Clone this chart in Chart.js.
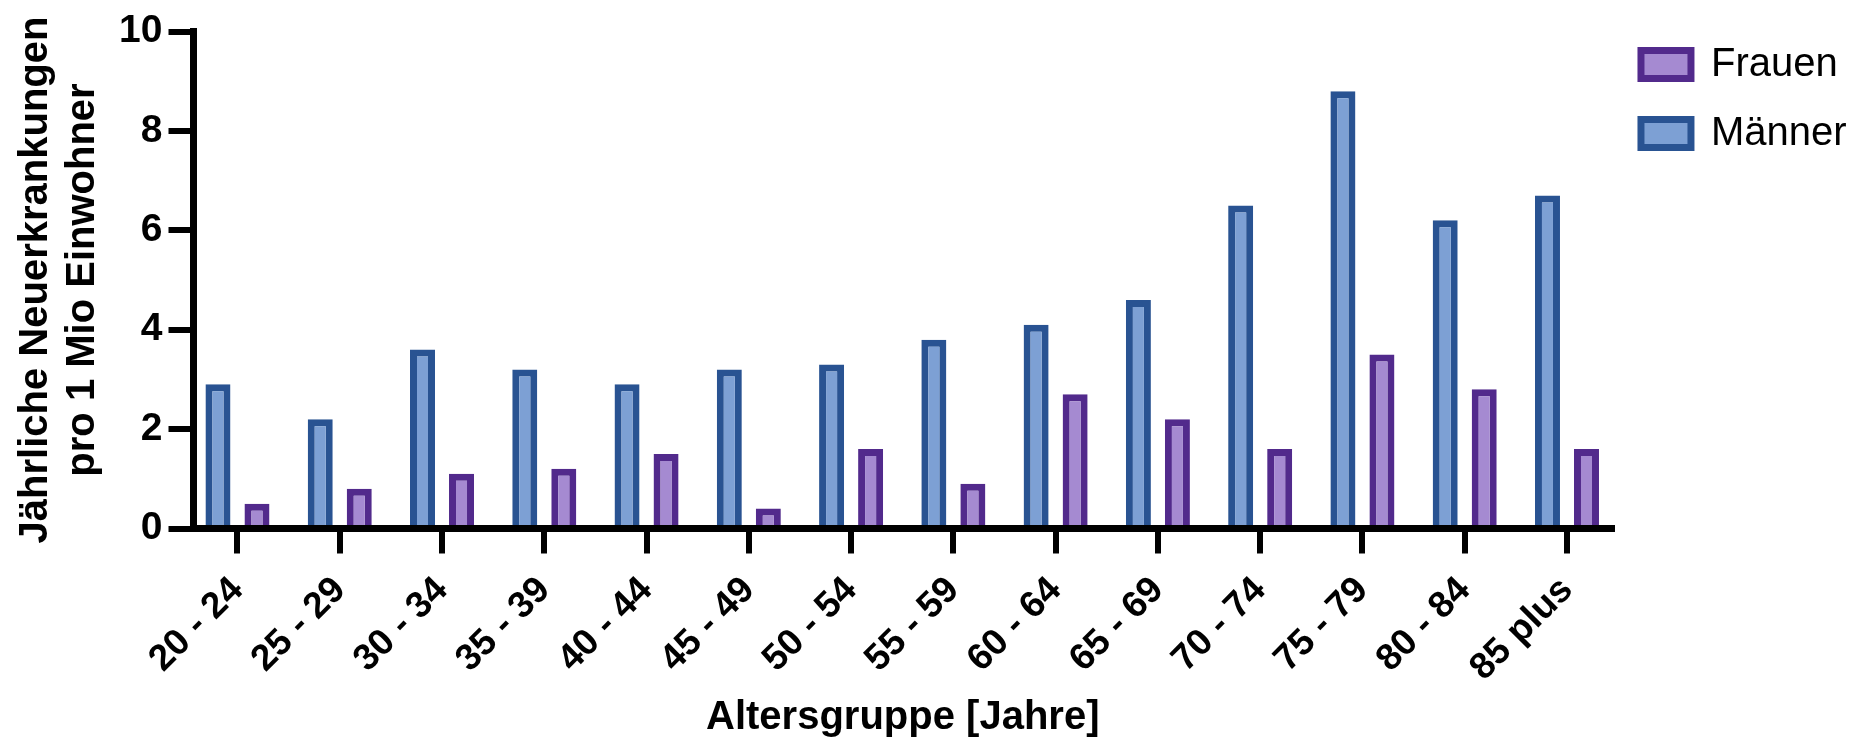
<!DOCTYPE html>
<html>
<head>
<meta charset="utf-8">
<script src="https://cdn.jsdelivr.net/npm/chart.js@4.4.1/dist/chart.umd.min.js"></script>
<style>
html,body{margin:0;padding:0;background:#fff;}
canvas{display:block;}
</style>
</head>
<body>
<canvas id="c" width="1859" height="738"></canvas>
<script>
// ---- data ----
const categories = ['20 - 24','25 - 29','30 - 34','35 - 39','40 - 44','45 - 49','50 - 54','55 - 59','60 - 64','65 - 69','70 - 74','75 - 79','80 - 84','85 plus'];
const maenner = [2.9, 2.2, 3.6, 3.2, 2.9, 3.2, 3.3, 3.8, 4.1, 4.6, 6.5, 8.8, 6.2, 6.7];
const frauen  = [0.5, 0.8, 1.1, 1.2, 1.5, 0.4, 1.6, 0.9, 2.7, 2.2, 1.6, 3.5, 2.8, 1.6];
const seriesNames = ['Männer', 'Frauen'];
const yTitle = ['Jährliche Neuerkrankungen', 'pro 1 Mio Einwohner'];
const xTitle = 'Altersgruppe [Jahre]';
const yMin = 0, yMax = 10, yStep = 2;

// ---- styles ----
const FONT = '"Liberation Sans", Arial, Helvetica, sans-serif';
const BLUE_BORDER = '#295392', BLUE_FILL = '#7DA0D4';
const PURPLE_BORDER = '#522A8C', PURPLE_FILL = '#A58AD1';

Chart.defaults.color = '#000';
Chart.defaults.font.family = FONT;

const toPoints = arr => arr.map((v, i) => ({x: i, y: v}));

new Chart(document.getElementById('c'), {
  type: 'bar',
  data: {
    datasets: [
      { label: seriesNames[0], data: toPoints(maenner), backgroundColor: BLUE_FILL, borderColor: BLUE_BORDER, borderWidth: 7 },
      { label: seriesNames[1], data: toPoints(frauen), backgroundColor: PURPLE_FILL, borderColor: PURPLE_BORDER, borderWidth: 7 }
    ]
  },
  options: {
    responsive: false,
    animation: false,
    devicePixelRatio: 1,
    categoryPercentage: 0.763,
    barPercentage: 0.641,
    layout: { padding: { top: 15.5, right: 2.4, left: 0, bottom: 0 } },
    plugins: {
      tooltip: { enabled: false },
      legend: {
        position: 'right',
        align: 'start',
        reverse: true,
        labels: {
          boxWidth: 50,
          boxHeight: 28,
          padding: 29,
          color: '#000',
          font: { size: 40, family: FONT }
        }
      }
    },
    scales: {
      x: {
        type: 'linear',
        offset: false,
        min: -0.43,
        max: 13.44,
        afterBuildTicks: s => { s.ticks = categories.map((_, i) => ({ value: i })); },
        afterFit: s => { s.height = 209.5; },
        border: { display: true, color: '#000', width: 7, z: 1 },
        grid: { offset: false, drawOnChartArea: false, drawTicks: true, tickLength: 25, color: '#000', lineWidth: 6 },
        ticks: {
          autoSkip: false,
          maxRotation: 45,
          minRotation: 45,
          padding: 15,
          color: '#000',
          font: { size: 37, weight: 'bold', family: FONT, lineHeight: 1.2 },
          callback: v => categories[v]
        },
        title: {
          display: true,
          text: xTitle,
          color: '#000',
          font: { size: 40, weight: 'bold', family: FONT, lineHeight: 1.0 },
          padding: { top: 0, bottom: 0 }
        }
      },
      y: {
        min: yMin,
        max: yMax,
        afterFit: s => { s.width = 193.5; s.paddingTop = 31.5; s.paddingBottom = 0; },
        border: { display: true, color: '#000', width: 7, z: 1 },
        grid: { drawOnChartArea: false, drawTicks: true, tickLength: 25, color: '#000', lineWidth: 6 },
        ticks: {
          stepSize: yStep,
          padding: 6,
          color: '#000',
          font: { size: 39, weight: 'bold', family: FONT }
        },
        title: {
          display: true,
          text: yTitle,
          color: '#000',
          font: { size: 40, weight: 'bold', family: FONT, lineHeight: 1.175 },
          padding: { top: 12.5, bottom: 10 }
        }
      }
    }
  }
});
</script>
</body>
</html>
